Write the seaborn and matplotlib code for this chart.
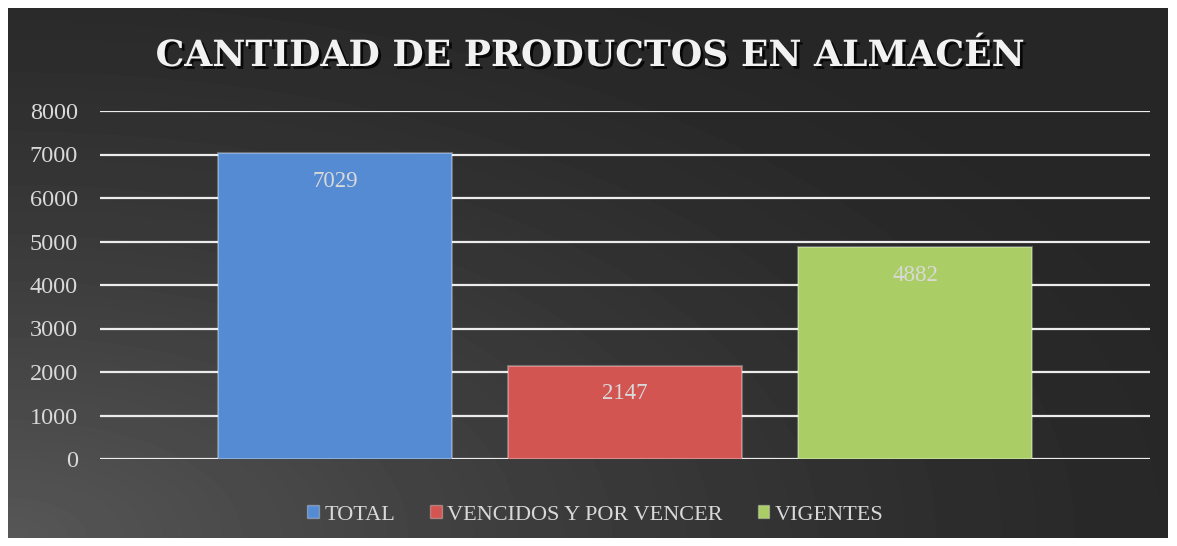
import numpy as np
import pandas as pd
import matplotlib
matplotlib.use("Agg")
import matplotlib.pyplot as plt
import matplotlib.patheffects as pe
import seaborn as sns


# ======================
# Data
# ======================

categorias = ["TOTAL", "VENCIDOS Y POR VENCER", "VIGENTES"]
valores = [7029, 2147, 4882]
colores = ["#558bd3", "#d25552", "#aacd66"]
ticks_y = [0, 1000, 2000, 3000, 4000, 5000, 6000, 7000, 8000]

titulo = "CANTIDAD DE PRODUCTOS EN ALMACÉN"

df = pd.DataFrame({"categoria": categorias, "valor": valores})


sns.set_style("white")
plt.rcParams["font.family"] = ["Liberation Serif", "DejaVu Serif"]

fig = plt.figure(figsize=(11.77, 5.46), dpi=100)
fig.patch.set_facecolor("white")


# ======================
# dark gradient panel
# ======================

bg = fig.add_axes([8 / 1177, 8 / 546, 1160 / 1177, 530 / 546])
gx, gy = np.meshgrid(np.linspace(0, 1, 300), np.linspace(0, 1, 150))
dist = np.clip(1 - np.sqrt((gx * 1.1) ** 2 + (gy * 1.0) ** 2) / 1.2, 0, 1)
shade = 0.15 + 0.19 * dist ** 1.4
bg.imshow(shade, cmap="gray", vmin=0, vmax=1, origin="lower",
          aspect="auto", extent=[0, 1, 0, 1], interpolation="bilinear")
bg.set_axis_off()
bg.set_zorder(0)


# ======================
# bars
# ======================

ax = fig.add_axes([100 / 1177, 1 - 459 / 546, 1050 / 1177, 348 / 546])
ax.set_zorder(1)
ax.patch.set_alpha(0)

sns.barplot(
    data=df,
    x="categoria",
    y="valor",
    hue="categoria",
    palette=colores,
    saturation=1,
    width=0.807,
    dodge=False,
    legend=False,
    ax=ax
)

for bar in ax.patches:
    bar.set_edgecolor((1, 1, 1, 0.3))
    bar.set_linewidth(1.5)
    bar.set_zorder(3)

for cont in ax.containers:
    ax.bar_label(
        cont,
        labels=[f"{int(v)}" for v in cont.datavalues],
        label_type="edge",
        padding=-28,
        color="#d9d9d9",
        fontsize=16.5,
        zorder=4
    )

ax.set_ylim(0, 8000)
ax.set_xlim(-0.81, 2.81)
ax.set_yticks(ticks_y)
ax.set_yticklabels([str(t) for t in ticks_y], color="#d9d9d9", fontsize=17.5)
ax.tick_params(axis="y", length=0, pad=16)
ax.set_xticks([])
ax.set_xlabel("")
ax.set_ylabel("")
ax.yaxis.grid(True, color="#ececec", linewidth=1.6)
ax.set_axisbelow(True)
for s in ax.spines.values():
    s.set_visible(False)


# ======================
# title
# ======================

fig.text(
    0.502, 1 - 56 / 546,
    titulo,
    ha="center", va="center",
    fontsize=26, fontweight="bold", color="#f2f2f2",
    family=["DejaVu Serif"],
    path_effects=[pe.withSimplePatchShadow(offset=(2, -2), shadow_rgbFace="black", alpha=0.8)]
)


# ======================
# legend
# ======================

handles = [plt.Rectangle((0, 0), 1, 1, facecolor=c, edgecolor=(1, 1, 1, 0.3)) for c in colores]
leg = fig.legend(
    handles, categorias,
    loc="center",
    bbox_to_anchor=(0.506, 1 - 515 / 546),
    ncol=3,
    frameon=False,
    fontsize=16,
    handlelength=0.5,
    handleheight=0.5,
    handletextpad=0.25,
    columnspacing=1.6
)
for t in leg.get_texts():
    t.set_color("#d9d9d9")


plt.savefig("out.png", dpi=100, facecolor=fig.get_facecolor())
plt.close()
